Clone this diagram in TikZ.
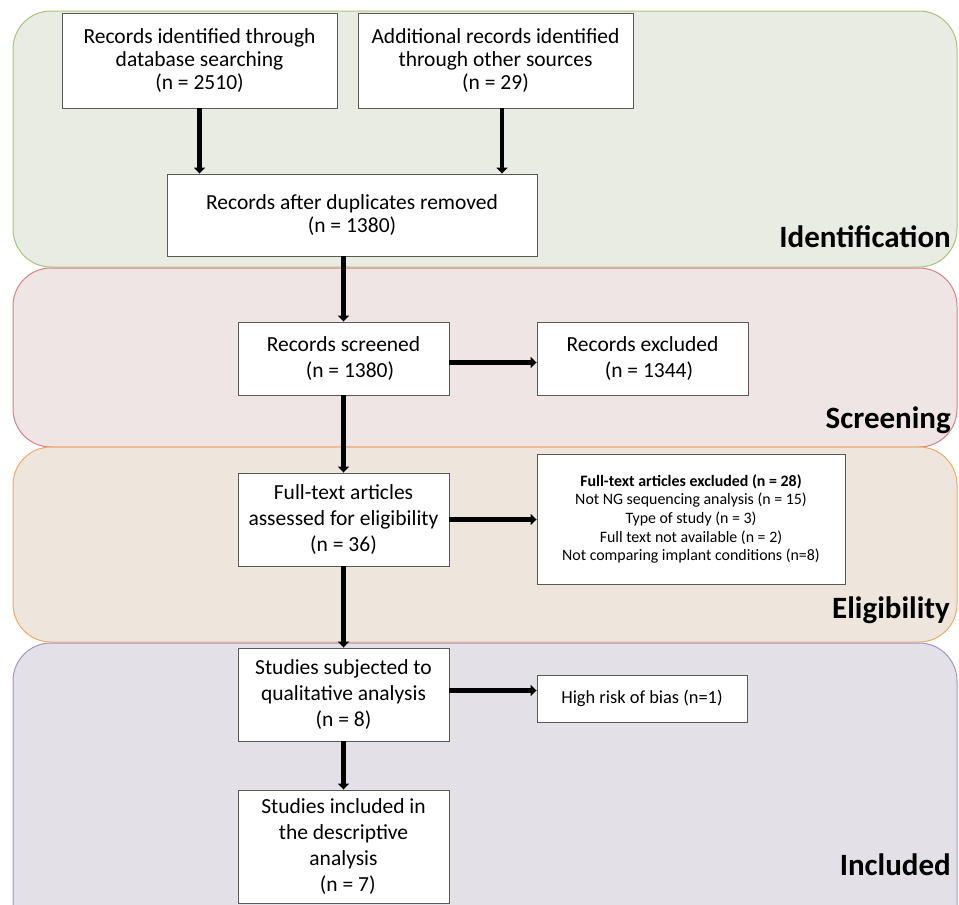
\documentclass[tikz,border=0pt]{standalone}
\usepackage{fontspec}
\setmainfont{Carlito}
\usetikzlibrary{arrows.meta}
\definecolor{idfill}{HTML}{E9ECE3}
\definecolor{idline}{HTML}{A9C47E}
\definecolor{scfill}{HTML}{EFE5E5}
\definecolor{scline}{HTML}{D98282}
\definecolor{elfill}{HTML}{EEE5DC}
\definecolor{elline}{HTML}{F2AA66}
\definecolor{infill}{HTML}{E3E0E8}
\definecolor{inline}{HTML}{A594CA}
\tikzset{
  band/.style={rounded corners=38pt, line width=1pt},
  box/.style={draw=black!65, fill=white, line width=0.9pt, inner sep=0pt, align=center,
    font=\fontsize{21.5}{25.8}\selectfont},
  tightbox/.style={box, font=\fontsize{21.5}{23.2}\selectfont},
  smallbox/.style={box, font=\fontsize{15.9}{18.7}\selectfont},
  riskbox/.style={box, font=\fontsize{18.4}{22}\selectfont},
  phase/.style={anchor=base east, inner sep=0pt, font=\fontsize{31}{36}\selectfont\bfseries},
  arr/.style={line width=4.5pt, -{Triangle[width=11pt,length=6pt]}},
}
\begin{document}
\begin{tikzpicture}[x=1pt,y=-1pt]
\useasboundingbox (0,0) rectangle (959,905);
\clip (0,0) rectangle (959,905);
\fill[white] (0,0) rectangle (959,905);
\draw[band, draw=idline, fill=idfill] (13,11) rectangle (957,267);
\draw[band, draw=scline, fill=scfill] (13,268) rectangle (957,447);
\draw[band, draw=elline, fill=elfill] (13,447) rectangle (957,642);
\draw[band, draw=inline, fill=infill] (13,643) rectangle (957,945);

\node[phase] (pid) at (951,247) {Identification};
\node[phase] (psc) at (951,428) {Screening};
\node[phase] (pel) at (950,618) {Eligibility};
\node[phase] (pin) at (951,875) {Included};

\node[tightbox, minimum width=275pt, minimum height=95pt] (b1) at (199.5,60.5)
  {Records identified through\\ database searching\\ (n = 2510)};
\node[tightbox, minimum width=275pt, minimum height=95pt] (b2) at (495.5,60.5)
  {Additional records identified\\ through other sources\\ (n = 29)};
\node[tightbox, minimum width=370pt, minimum height=82pt] (b3) at (352,215)
  {Records after duplicates removed\\ (n = 1380)};
\node[box, minimum width=211pt, minimum height=73pt] (b4) at (343.5,358.5)
  {Records screened\\ \hspace{0.6em}(n = 1380)};
\node[box, minimum width=211pt, minimum height=73pt] (ex1) at (642.5,358.5)
  {Records excluded\\ \hspace{0.6em}(n = 1344)};
\node[box, minimum width=211pt, minimum height=93pt] (b5) at (343.5,519.5)
  {Full-text articles\\ assessed for eligibility\\ (n = 36)};
\node[smallbox, minimum width=308pt, minimum height=130pt] (ex2) at (691,519)
  {\textbf{Full-text articles excluded (n = 28)}\\ Not NG sequencing analysis (n = 15)\\ Type of study (n = 3)\\ Full text not available (n = 2)\\ Not comparing implant conditions (n=8)};
\node[box, minimum width=211pt, minimum height=93pt] (b6) at (343.5,694.5)
  {Studies subjected to\\ qualitative analysis\\ (n = 8)};
\node[riskbox, minimum width=210pt, minimum height=47pt] (ex3) at (642,698.5)
  {High risk of bias (n=1)};
\node[box, minimum width=211pt, minimum height=113pt] (b7) at (343.5,846.5)
  {Studies included in\\ the descriptive\\ analysis\\ \hspace{0.4em}(n = 7)};

\draw[arr] (b1.south) -- (b1.south |- b3.north);
\draw[arr] ([xshift=6.5pt]b2.south) -- ([xshift=6.5pt]b2.south |- b3.north);
\draw[arr] (b3.south -| b4.north) -- (b4.north);
\draw[arr] ([yshift=-4pt]b4.east) -- ([yshift=-4pt]b4.east -| ex1.west);
\draw[arr] (b4.south) -- (b5.north);
\draw[arr] (b5.east) -- (b5.east -| ex2.west);
\draw[arr] (b5.south) -- (b6.north);
\draw[arr] ([yshift=4pt]b6.east) -- ([yshift=4pt]b6.east -| ex3.west);
\draw[arr] (b6.south) -- (b7.north);
\end{tikzpicture}
\end{document}
